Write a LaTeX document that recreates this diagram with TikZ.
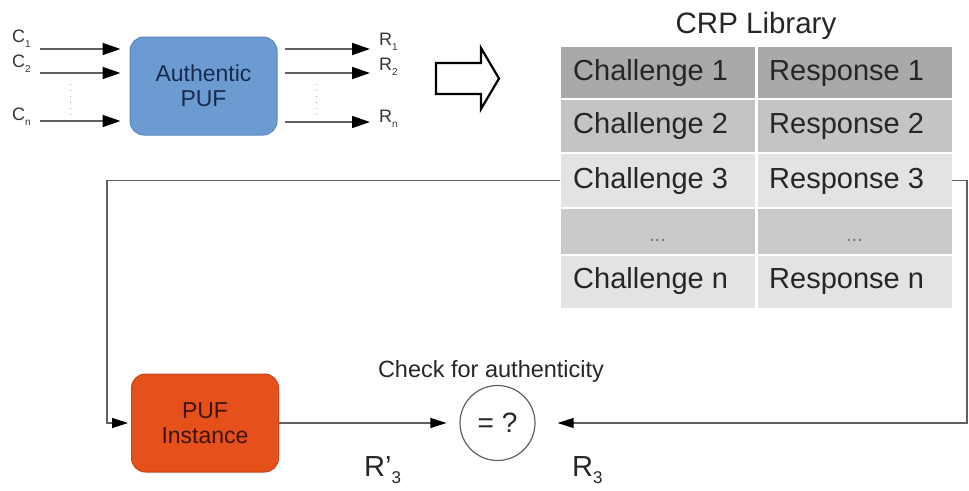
\documentclass[tikz,border=0pt]{standalone}
\usepackage{fontspec}
\setmainfont{Liberation Sans}
\usetikzlibrary{arrows.meta}
\definecolor{pufblue}{HTML}{6C9BD2}
\definecolor{pufblueline}{HTML}{5A87BC}
\definecolor{pufred}{HTML}{E5501B}
\definecolor{pufredline}{HTML}{C9441A}
\definecolor{rowA}{HTML}{A9A9A9}
\definecolor{rowB}{HTML}{C4C4C4}
\definecolor{rowC}{HTML}{E3E3E3}
\definecolor{rowD}{HTML}{CACACA}
\definecolor{linegray}{HTML}{606060}
\begin{document}
\begin{tikzpicture}[x=1pt,y=-1pt,
  pufbox/.style={rounded corners=14pt, minimum width=147pt, minimum height=98pt, inner sep=0pt, align=center,
    font=\fontsize{23}{25}\selectfont},
  cellbox/.style={minimum width=194pt, inner sep=0pt, draw=none},
  celltext/.style={anchor=base west, inner sep=0pt, text=black!85, font=\fontsize{29}{32}\selectfont},
  lbl/.style={anchor=base west, inner sep=0pt, text=black!80, font=\fontsize{18}{18}\selectfont},
  tipA/.style={-{Triangle[length=18pt,width=12pt,color=black]}},
  inarrow/.style={draw=linegray, line width=1.6pt, tipA},
  conn/.style={draw=linegray, line width=1.2pt, -{Triangle[length=16pt,width=10pt,color=black]}},
  vdots/.style={draw=black!35, line width=1pt, dash pattern=on 1pt off 5pt}
]
\useasboundingbox (0,0) rectangle (969,490);

% Authentic PUF
\node[pufbox, fill=pufblue, draw=pufblueline, line width=1pt, text={rgb,255:red,25;green,42;blue,80}] (apuf) at (203.5,86) {Authentic\\PUF};

% input labels
\node[lbl] (lc1) at (12,42) {C\raisebox{-5pt}{\fontsize{10}{10}\selectfont 1}};
\node[lbl] (lc2) at (12,67) {C\raisebox{-5pt}{\fontsize{10}{10}\selectfont 2}};
\node[lbl] (lcn) at (12,120) {C\raisebox{-5pt}{\fontsize{10}{10}\selectfont n}};
\coordinate (i1) at (40,49);
\coordinate (i2) at (40,73);
\coordinate (in) at (40,121);
\draw[inarrow, shorten >=9pt] (i1) -- (i1 -| apuf.west);
\draw[inarrow, shorten >=9pt] (i2) -- (i2 -| apuf.west);
\draw[inarrow, shorten >=9pt] (in) -- (in -| apuf.west);
\coordinate (d1a) at (70,84);
\coordinate (d1b) at (70,116);
\draw[vdots] (d1a) -- (d1b);

% outputs
\coordinate (o1) at (370,49);
\coordinate (o2) at (370,73);
\coordinate (on) at (370,122);
\draw[inarrow, shorten <=7pt] (o1 -| apuf.east) -- (o1);
\draw[inarrow, shorten <=7pt] (o2 -| apuf.east) -- (o2);
\draw[inarrow, shorten <=7pt] (on -| apuf.east) -- (on);
\node[lbl] (lr1) at (379,45) {R\raisebox{-5pt}{\fontsize{10}{10}\selectfont 1}};
\node[lbl] (lr2) at (379,70) {R\raisebox{-5pt}{\fontsize{10}{10}\selectfont 2}};
\node[lbl] (lrn) at (379,122) {R\raisebox{-5pt}{\fontsize{10}{10}\selectfont n}};
\coordinate (d2a) at (316,84);
\coordinate (d2b) at (316,116);
\draw[vdots] (d2a) -- (d2b);

% hollow arrow
\draw[line width=2.2pt, line join=miter, fill=white] (436,63) -- (481,63) -- (481,48) -- (499,78.5) -- (481,109) -- (481,94) -- (436,94) -- cycle;

% CRP library
\node[anchor=base, inner sep=0pt, text=black!85, font=\fontsize{29.5}{32}\selectfont] (title) at (756,33) {CRP Library};

\foreach \r/\t/\b/\col/\ta/\tb/\bl in {1/47/98/rowA/Challenge 1/Response 1/80,
  2/100/152/rowB/Challenge 2/Response 2/133,
  3/154/207/rowC/Challenge 3/Response 3/188,
  5/256/308/rowC/Challenge n/Response n/288}{
  \node[cellbox, fill=\col, minimum height={\b-\t}] (ca\r) at (657.5,{(\t+\b)/2}) {};
  \node[cellbox, fill=\col, minimum height={\b-\t}] (cb\r) at (854.5,{(\t+\b)/2}) {};
  \node[celltext] (ta\r) at (573,\bl) {\ta};
  \node[celltext] (tb\r) at (769,\bl) {\tb};
}
\node[cellbox, fill=rowD, minimum height=45pt] (ca4) at (657.5,231.5) {};
\node[cellbox, fill=rowD, minimum height=45pt] (cb4) at (854.5,231.5) {};
\node[anchor=base, inner sep=0pt, text=black!55, font=\fontsize{20}{20}\selectfont] (ta4) at (657.5,241) {...};
\node[anchor=base, inner sep=0pt, text=black!55, font=\fontsize{20}{20}\selectfont] (tb4) at (854.5,241) {...};

% PUF instance
\node[pufbox, fill=pufred, draw=pufredline, line width=1pt, text={rgb,255:red,60;green,20;blue,8}] (pinst) at (205,423) {PUF\\Instance};

% comparison
\node[circle, draw=linegray, line width=1.2pt, minimum size=75pt, inner sep=0pt, font=\fontsize{28}{28}\selectfont, text=black!85] (eq) at (497.5,423) {= ?};
\node[anchor=base, inner sep=0pt, text=black!85, font=\fontsize{23.5}{24}\selectfont] (check) at (491,377) {Check for authenticity};
\node[anchor=base west, inner sep=0pt, text=black!85, font=\fontsize{29}{29}\selectfont] (rp3) at (364,476) {R’\raisebox{-7pt}{\fontsize{17}{17}\selectfont 3}};
\node[anchor=base west, inner sep=0pt, text=black!85, font=\fontsize{29}{29}\selectfont] (r3) at (572,476) {R\raisebox{-7pt}{\fontsize{17}{17}\selectfont 3}};

% connectors
\coordinate (lx) at (107,0);
\coordinate (rx) at (967,0);
\draw[conn, shorten >=3pt] (ca3.west) -| (lx |- pinst.west) -- (pinst.west);
\draw[conn, shorten >=13pt] (pinst.east) -- (eq.west);
\draw[conn, shorten >=22pt] (cb3.east) -| (rx |- eq.east) -- (eq.east);
\end{tikzpicture}
\end{document}
